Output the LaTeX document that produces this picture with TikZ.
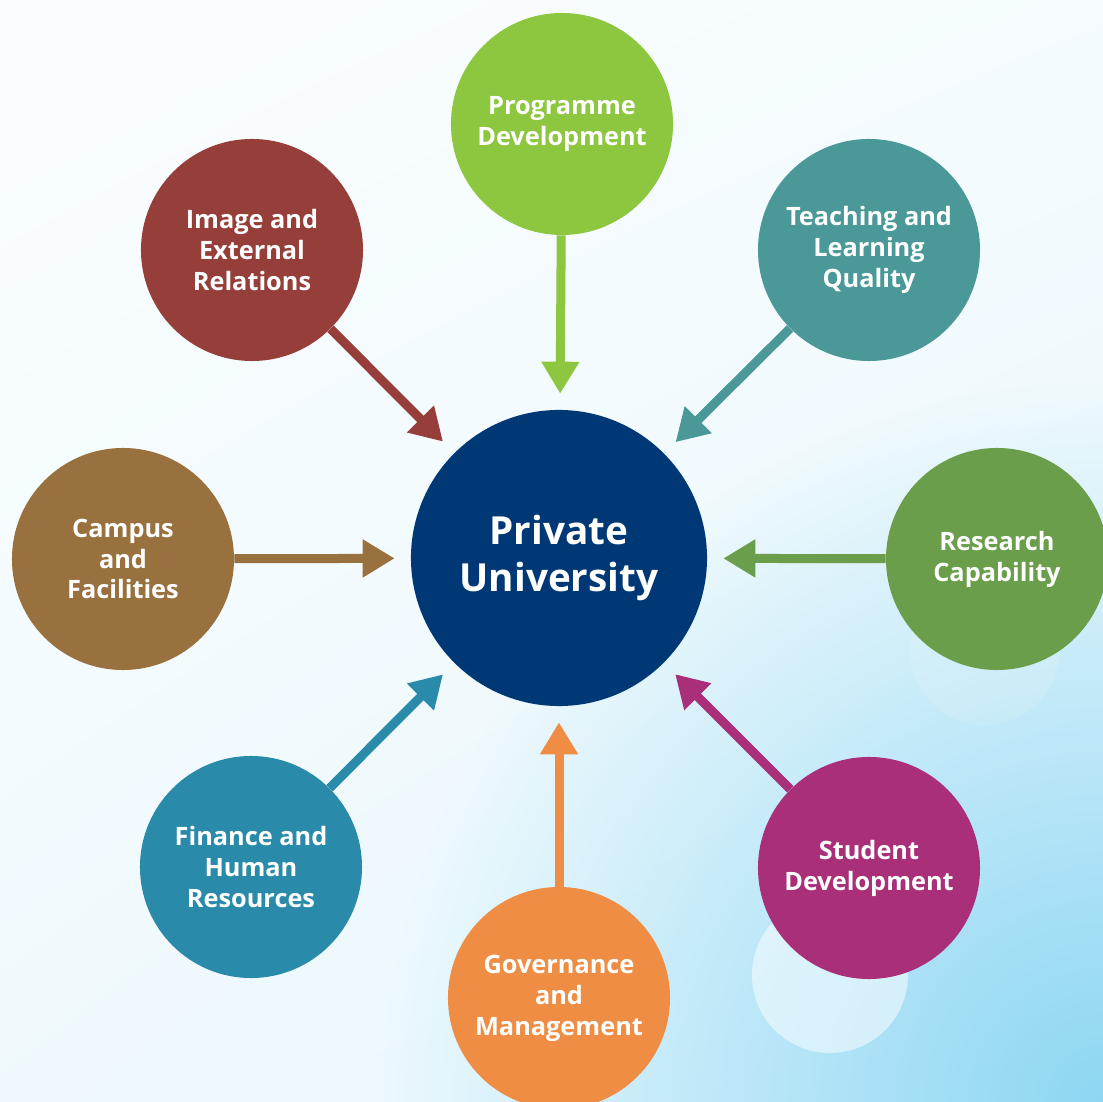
\documentclass[tikz,border=0pt]{standalone}
\usepackage{fontspec}
\setmainfont{Open Sans}
\usepackage{tikz}
\usetikzlibrary{arrows.meta,fadings,shadings}
\definecolor{Navy}{HTML}{003876}
\definecolor{Lime}{HTML}{8DC63F}
\definecolor{Teal}{HTML}{4A9898}
\definecolor{Leaf}{HTML}{6A9E4A}
\definecolor{Plum}{HTML}{A82F78}
\definecolor{Tangerine}{HTML}{EF8D45}
\definecolor{Ocean}{HTML}{2A8AAA}
\definecolor{Bronze}{HTML}{99713F}
\definecolor{Brick}{HTML}{963F3A}
\definecolor{Sky}{HTML}{8ED7F3}
\tikzfading[name=glowfade,inner color=transparent!0,outer color=transparent!100]

\begin{document}
\begin{tikzpicture}[x=0.025cm,y=0.025cm,
    pillar/.style={circle,fill=#1,minimum size=5.55cm,inner sep=0pt,
      text=white,align=center,font=\bfseries\fontsize{18}{22}\selectfont},
    feed/.style={#1,line width=0.225cm,shorten >=0.4cm,
      -{Triangle[length=0.8cm,width=0.9cm]}}]
  % backdrop
  \useasboundingbox (-559,-544) rectangle (544,558);
  \shade[upper left=Sky!4,upper right=Sky!9,
    lower left=Sky!14,lower right=Sky!22] (-559,-544) rectangle (544,558);
  \fill[Sky,path fading=glowfade] (544,-544) circle (720);
  \fill[white,opacity=0.5] (271,-417) circle (78);
  \fill[white,opacity=0.12] (426,-92) circle (75);

  % centre
  \node[circle,fill=Navy,minimum size=7.4cm,inner sep=0pt,text=white,
    align=center,font=\bfseries\fontsize{27.5}{34}\selectfont] (uni) at (0,0)
    {Private\\University};

  % surrounding areas
  \node[pillar=Lime] (prog) at (3,434) {Programme\\Development};
  \node[pillar=Teal] (teach) at (310,308) {Teaching and\\Learning\\Quality};
  \node[pillar=Leaf] (research) at (438,-1) {Research\\Capability};
  \node[pillar=Plum] (student) at (310,-310) {Student\\Development};
  \node[pillar=Tangerine] (gov) at (0,-440) {Governance\\and\\Management};
  \node[pillar=Ocean] (finance) at (-308,-309) {Finance and\\Human\\Resources};
  \node[pillar=Bronze] (campus) at (-436,-1) {Campus\\and\\Facilities};
  \node[pillar=Brick] (image) at (-307,308) {Image and\\External\\Relations};

  \draw[feed=Lime] (prog) -- (uni);
  \draw[feed=Teal] (teach) -- (uni);
  \draw[feed=Leaf] (research) -- (uni);
  \draw[feed=Plum] (student) -- (uni);
  \draw[feed=Tangerine] (gov) -- (uni);
  \draw[feed=Ocean] (finance) -- (uni);
  \draw[feed=Bronze] (campus) -- (uni);
  \draw[feed=Brick] (image) -- (uni);
\end{tikzpicture}
\end{document}
